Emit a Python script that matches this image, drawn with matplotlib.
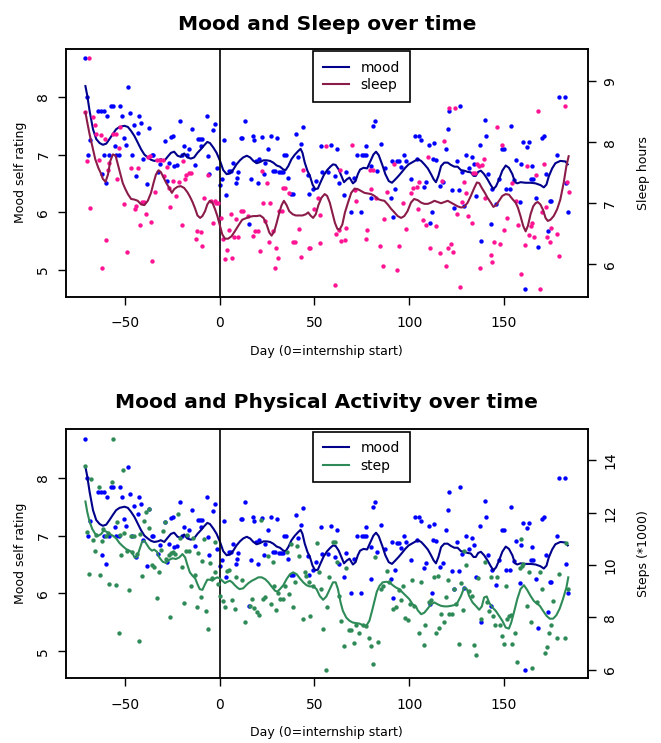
import matplotlib
matplotlib.use("Agg")
import matplotlib.pyplot as plt
from matplotlib.lines import Line2D

plt.rcParams['font.family'] = ['DejaVu Sans']

# ---------------- data ----------------
mood_day = [-71.2, -70.2, -64.2, -62.8, -61.2, -68.6, -69.3, -62.3, -60.2, -61.1, -58.3, -54.5, -53.2,
            -59.5, -57.2, -56.4, -52.4, -55.2, -51.3, -50.4, -49.3, -48.3, -47.3, -46.2, -45.3, -44.3,
            -43.1, -42.4, -41.4, -40.2, -38.4, -37.2, -35.9, -34.9, -32.6, -31.4, -29.0, -28.0, -26.6,
            -25.7, -24.8, -24.0, -22.6, -20.9, -20.0, -18.6, -17.0, -16.2, -14.8, -13.0, -11.6, -10.4,
            -9.9, -9.2, -6.5, -6.0, -5.7, -3.7, -2.7, -1.6, 0.3, 1.0, 2.4, 3.4, 5.2, 6.2, 7.1, 8.5, 9.2,
            9.7, 11.2, 11.9, 13.3,
            15.3, 16.6, 17.4, 18.3, 19.2, 20.6, 20.2, 22.3, 23.2, 24.1, 25.3, 27.0, 28.4, 29.3, 30.2,
            31.3, 32.3, 33.4, 34.2, 35.1, 36.1, 37.4, 38.6, 40.3, 41.2, 42.9, 44.2, 46.5, 47.3, 49.4,
            50.8, 53.3, 53.8, 57.3, 59.0, 60.8, 62.0, 63.1, 65.7, 66.4, 69.2, 70.8, 72.7, 74.4, 75.1,
            76.0, 77.1, 77.4, 79.7, 80.9, 81.8, 80.0, 83.2, 85.3, 87.4, 90.2, 91.1, 91.6, 92.3, 93.3,
            94.7, 95.4, 97.5, 98.1, 100.8, 102.8,
            104.2, 105.2, 106.3, 107.7, 109.1, 110.3, 112.0, 111.2, 112.4, 113.3, 114.3, 116.4, 117.6,
            119.4, 120.3, 121.1, 122.4, 123.4, 125.2, 126.4, 126.9, 128.1, 129.9, 129.0, 131.6, 132.9,
            134.3, 135.4, 137.1, 138.1, 139.9, 140.4, 141.6, 143.0, 143.9, 145.6, 147.4, 149.1, 150.0,
            150.9, 153.1, 153.8, 155.2, 156.1, 158.2, 159.1, 159.8, 161.0, 161.9, 163.1, 164.9, 164.0,
            165.4, 167.8, 167.0, 170.1, 171.0, 171.9, 173.1, 174.0, 175.0, 178.0, 179.0, 182.2, 182.9,
            183.8]
mood_val = [8.67, 8.0, 7.76, 7.76, 7.76, 7.25, 7.0, 6.67, 6.51, 7.0, 7.0, 7.0, 7.0,
            7.67, 7.84, 7.84, 7.84, 7.15, 7.67, 7.29, 7.17, 8.18, 7.72, 7.0, 7.51, 6.63,
            7.37, 7.67, 7.55, 6.92, 6.48, 7.46, 7.0, 7.0, 6.69, 6.83, 7.24, 6.54, 6.86,
            7.3, 7.33, 6.8, 6.82, 7.58, 6.99, 7.15, 6.99, 7.09, 7.44, 6.82, 7.27, 7.27,
            7.15, 7.27, 7.67, 6.98, 6.66, 7.42, 7.54, 6.76, 6.47, 6.57, 7.25, 6.29, 6.72, 6.72, 6.86, 6.51, 6.6,
            6.7, 7.28, 7.28, 7.58,
            5.79, 6.58, 7.33, 7.25, 6.89, 6.92, 6.51, 7.31, 6.66, 6.85, 7.09, 7.32, 6.72, 6.72, 7.28,
            6.7, 6.7, 6.7, 7.0, 7.0, 6.6, 6.31, 6.31, 7.36, 6.95, 7.18, 7.48, 6.64, 6.31, 6.41,
            6.54, 7.15, 6.69, 6.69, 7.16, 6.63, 7.09, 6.51, 6.29, 6.7, 6.01, 6.6, 7.0, 6.01, 7.0,
            7.0, 7.0, 7.15, 6.8, 7.5, 7.58, 6.25, 6.72, 7.18, 6.76, 6.25, 6.89, 5.92, 6.4, 6.88,
            6.88, 6.79, 7.0, 6.89, 6.57, 7.32,
            6.92, 7.33, 7.25, 6.44, 6.52, 7.16, 6.0, 5.81, 6.92, 7.2, 6.9, 6.45, 6.52,
            7.1, 7.44, 7.76, 6.39, 6.07, 6.89, 6.39, 7.84, 6.69, 7.0, 6.1, 6.76, 6.95,
            6.83, 6.28, 7.16, 5.5, 7.6, 7.33, 6.67, 5.79, 6.4, 6.14, 6.57, 7.1, 7.1,
            6.4, 6.4, 7.5, 6.56, 6.9, 6.18, 6.83, 7.21, 4.67, 7.14, 7.21, 6.8, 6.58,
            6.58, 5.4, 6.25, 7.28, 7.32, 6.67, 5.67, 6.2, 6.2, 7.0, 8.0, 8.0, 6.51,
            6.0]

sleep_day = [-68.9, -70.8, -69.8, -68.2, -66.8, -65.9, -65.1, -62.8, -63.8, -61.9, -60.7, -59.8, -58.9,
             -58.1, -56.3, -54.9, -54.0, -53.2, -52.3, -50.2, -48.8, -47.0, -44.9, -44.1, -42.8, -42.0,
             -40.9, -39.7, -38.8, -38.0, -36.7, -36.2, -35.9, -33.9, -32.8, -31.5, -30.1, -29.2, -28.0,
             -26.9, -26.1, -24.8, -23.1, -21.3, -20.1, -19.2, -18.4, -17.5, -16.1, -14.9, -12.6, -12.1,
             -10.0, -9.1, -8.2, -6.1, -4.4, -2.6, -3.3, -1.7, -0.7, 0.7, 1.7, 2.8, 3.8, 4.9, 5.8, 6.6,
             7.5, 8.7, 9.8, 11.5, 12.2,
             14.7, 17.5, 18.9, 20.0, 21.3, 22.2, 22.7, 24.0, 25.2, 26.2, 26.6, 28.0, 29.2, 29.7, 30.9,
             31.5, 32.7, 33.6, 34.5, 36.7, 38.8, 39.7, 41.9, 42.8, 44.0, 47.0, 47.9, 49.8, 51.9, 52.8,
             53.2, 55.9, 60.7, 61.5, 62.9, 63.6, 64.2, 66.1, 66.8, 70.0, 71.2, 72.0, 77.0, 77.6, 79.4,
             80.8, 79.9, 82.5, 84.6, 86.0, 86.9, 88.3, 92.2, 93.5, 94.8, 96.9, 98.3, 100.9, 101.8,
             104.2, 105.4, 104.5, 107.5, 108.9, 110.1, 111.2, 114.3, 116.4, 117.1, 118.2, 119.4, 120.3,
             122.0, 121.1, 124.1, 122.9, 125.2, 126.9, 127.8, 129.0, 130.2, 131.1, 132.9, 133.4, 134.6,
             136.0, 136.9, 137.2, 138.6, 139.5, 139.9, 143.0, 143.9, 144.8, 146.2, 147.9, 149.1, 150.0,
             151.7, 154.0, 156.1, 157.3, 158.7, 161.0, 161.9, 163.1, 164.4, 164.9, 165.7, 167.1, 167.8,
             168.9, 170.1, 171.0, 171.9, 172.7, 174.1, 175.0, 178.0, 179.0, 182.4, 183.2, 184.1]
sleep_val = [9.37, 8.5, 7.69, 6.93, 8.41, 8.28, 8.14, 8.11, 7.7, 5.94, 8.05, 6.4, 7.55,
             7.66, 8.13, 8.13, 7.4, 7.91, 8.25, 6.99, 6.2, 7.58, 6.91, 6.96, 7.57, 6.65,
             7.02, 7.02, 6.82, 7.76, 7.77, 6.7, 6.06, 7.19, 7.7, 7.7, 7.7, 7.45, 7.6,
             7.25, 6.94, 7.36, 7.12, 7.34, 6.64, 7.69, 7.39, 7.46, 7.5, 7.5, 6.41, 6.55,
             6.53, 6.3, 7.09, 7.47, 7.03, 7.03, 6.68, 7.0, 7.0, 6.76, 6.42, 6.08, 6.23, 6.57, 6.82, 6.1,
             6.44, 6.75, 6.44, 6.87, 6.87,
             6.79, 6.46, 6.55, 6.55, 6.22, 7.53, 7.0, 6.71, 7.33, 6.36, 7.01, 6.55, 5.94, 6.27, 6.1,
             6.87, 6.87, 7.25, 7.25, 7.17, 6.36, 6.36, 6.58, 6.12, 7.54, 6.27, 6.27, 6.91, 7.09, 6.35,
             6.8, 7.93, 5.66, 6.49, 6.57, 7.54, 6.39, 6.4, 6.6, 7.95, 7.21, 7.04, 6.41, 6.56, 7.55,
             7.55, 7.23, 7.09, 6.3, 5.97, 6.75, 7.18, 7.64, 5.91, 6.3, 7.0, 6.58, 7.17, 7.25,
             7.27, 7.34, 6.9, 6.72, 6.64, 7.76, 6.26, 6.62, 6.19, 7.36, 8.02, 5.97, 6.26,
             6.33, 8.56, 8.56, 6.2, 6.82, 5.63, 7.02, 7.35, 7.17, 6.79, 6.68, 7.5, 7.5,
             7.64, 7.61, 5.94, 7.63, 7.73, 7.09, 6.16, 6.04, 6.37, 8.25, 6.34, 7.95, 6.56,
             6.76, 7.33, 7.04, 6.65, 5.84, 6.31, 7.61, 6.48, 6.63, 6.67, 6.44, 7.47, 8.51,
             5.6, 6.86, 7.64, 6.94, 6.45, 6.36, 6.6, 6.49, 6.14, 8.6, 7.34, 7.19]

step_day = [-70.8, -56.0, -68.0, -63.8, -70.0, -66.8, -68.9, -65.9, -65.1, -63.1, -62.2, -61.3, -60.2,
            -58.9, -58.1, -56.9, -54.9, -54.0, -53.2, -52.8, -52.1, -51.2, -50.2, -49.1, -48.0, -46.7,
            -45.0, -46.3, -43.5, -42.7, -42.0, -40.9, -39.7, -38.8, -37.4, -37.1, -35.9, -34.5, -33.2,
            -32.2, -30.9, -30.1, -29.0, -28.3, -26.9, -25.5, -24.8, -23.6, -26.1, -22.0, -21.0, -20.1,
            -19.0, -17.8, -17.0, -16.1, -14.9, -14.0, -12.9, -12.1, -11.2, -10.0, -9.1, -8.2, -7.0,
            -6.1, -5.2, -3.8, -2.6, -2.4, -1.0, 0.3, 1.7, 2.8, 3.8, 4.9, 6.6, 7.9, 8.7, 11.9, 13.6,
            16.1, 17.3, 18.2, 19.9, 20.8, 21.7, 22.7, 24.0, 25.7, 26.9, 28.3, 28.8, 29.7, 30.9, 31.8,
            33.2, 34.4, 35.3, 36.7, 37.9, 38.8, 39.7, 40.6, 41.6, 44.1, 44.9, 45.8, 47.2, 47.9, 49.3,
            51.4, 52.5, 53.3, 54.6, 55.9, 56.8, 57.7, 59.8, 60.8, 62.1, 62.9, 64.2, 65.4, 66.8, 68.2,
            69.4, 71.0, 72.0, 73.4, 75.8, 77.3, 78.7, 79.6, 80.8, 81.7, 83.4, 85.2, 86.4, 88.3, 89.5,
            91.3, 93.0, 94.4, 95.7, 96.9, 97.7, 99.1, 100.4, 101.4, 102.5,
            104.9, 106.0, 107.7, 108.4, 110.6, 111.5, 113.3, 114.1, 115.0, 115.9, 116.8, 118.2, 119.4,
            120.3, 121.1, 122.4, 123.4, 124.6, 126.4, 127.3, 128.5, 129.0, 130.2, 131.6, 132.9, 134.3,
            135.4, 136.4, 137.8, 140.2, 140.9, 142.1, 143.0, 144.2, 145.1, 146.5, 147.9, 149.1, 150.0,
            150.9, 151.7, 152.6, 153.5, 154.0, 155.6, 156.6, 158.4, 159.3, 158.7, 160.0, 161.9, 163.1,
            164.0, 165.0, 167.5, 168.9, 170.1, 171.5, 172.7, 173.6, 174.8, 175.9, 178.0, 178.9, 182.0,
            182.9, 183.8]
step_val = [13.78, 14.83, 13.3, 12.98, 11.28, 10.97, 9.65, 10.55, 11.16, 9.62, 10.93, 11.38, 11.1,
            11.23, 9.27, 13.19, 9.23, 11.66, 7.39, 11.15, 10.4, 13.64, 11.23, 10.52, 9.05, 11.1,
            11.12, 10.51, 10.42, 7.1, 11.19, 9.57, 11.7, 12.04, 12.15, 11.41, 10.0, 9.91, 8.73,
            9.72, 10.59, 11.32, 11.66, 10.23, 10.4, 10.45, 10.5, 10.42, 8.03, 11.96, 11.02, 9.91,
            8.54, 10.55, 11.16, 10.52, 9.2, 11.02, 9.62, 8.38, 10.46, 8.76, 10.17, 11.0, 8.25,
            7.57, 10.06, 9.49, 9.74, 10.87, 9.28, 8.8, 8.63, 8.38, 9.78, 9.82, 8.66, 8.31, 9.53, 9.44, 7.84,
            8.44, 8.7, 8.34, 8.19, 8.08, 11.74, 8.7, 8.76, 10.33, 8.5, 10.1, 9.2, 8.27, 8.95, 8.72,
            8.72, 9.2, 10.49, 8.89, 10.8, 8.38, 9.34, 10.72, 10.36, 7.93, 9.74, 9.59, 9.34, 8.06, 9.2,
            10.84, 9.72, 9.1, 7.55, 5.99, 8.38, 9.53, 10.87, 10.87, 10.1, 8.82, 7.87, 6.9, 9.87, 7.52,
            7.52, 7.03, 7.7, 7.42, 7.7, 7.67, 7.22, 6.9, 6.2, 10.32, 7.06, 9.1, 9.2, 9.78, 9.34,
            8.31, 8.38, 9.05, 8.67, 9.2, 7.99, 7.9, 8.5, 9.44, 8.44,
            7.42, 9.34, 6.93, 7.7, 8.6, 8.66, 9.53, 7.42, 9.59, 7.61, 8.12, 7.83, 8.76,
            9.44, 8.13, 8.13, 9.08, 8.5, 6.97, 9.31, 8.29, 10.55, 10.0, 9.02, 8.82, 6.94,
            6.55, 9.49, 7.93, 10.1, 8.6, 8.25, 9.53, 8.06, 7.7, 9.53, 7.7, 7.27, 7.0,
            9.2, 7.95, 8.06, 8.08, 7.0, 7.42, 6.29, 9.87, 9.95, 11.0, 10.04, 8.44, 9.72,
            7.83, 6.08, 8.57, 9.72, 9.08, 6.65, 6.88, 7.39, 7.7, 8.63, 7.22, 9.66, 7.22,
            10.84, 9.1]

# smoothed trend lines as drawn in the picture
mood_fit_day = [-70.8, -69.8, -68.6, -66.8, -65.1, -63.3, -61.6, -59.8, -58.1, -56.3, -54.6, -52.8, -50.2,
                -48.4, -46.7, -44.9, -43.2, -41.4, -39.7, -37.9, -36.2, -34.5, -32.7, -31.0, -29.2, -27.5,
                -25.7, -24.0, -22.2, -20.5, -18.7, -17.0, -15.2, -13.5, -11.7, -10.0, -8.2, -6.5, -5.1,
                -3.3, -1.6, 0.2, 1.9, 3.7, 5.4, 7.2, 8.9, 10.7, 12.4, 14.3, 16.1, 17.8, 19.6, 21.3, 23.1,
                24.8, 26.6, 28.3, 30.1, 31.8, 33.6, 34.8, 36.2, 37.9, 39.7, 41.4, 42.7, 43.7, 44.9, 46.3,
                47.6, 49.0, 50.4, 51.8, 53.1, 54.9, 56.7, 58.4, 59.8, 61.2, 62.8, 64.2, 65.6, 67.1, 68.5,
                70.3, 71.7, 72.9, 74.1, 75.9, 77.8, 79.6, 81.1, 82.5, 83.9, 85.7, 87.4, 89.2, 90.9, 92.7,
                94.4, 96.2, 97.9, 99.7, 101.8, 104.5, 106.3, 108.0, 109.8, 111.5, 112.9, 114.1, 115.4,
                116.8, 118.5, 120.3, 122.0, 123.8, 125.5, 127.3, 129.0, 130.8, 132.5, 133.9, 135.1, 136.4,
                137.8, 139.5, 141.3, 143.0, 144.4, 145.8, 147.4, 149.1, 150.9, 152.6, 154.4, 155.8, 157.0,
                158.7, 161.4, 164.0, 166.6, 169.2, 171.0, 172.4, 173.6, 175.4, 177.1, 179.7, 182.4, 183.6]
mood_fit = [8.19, 8.02, 7.76, 7.44, 7.27, 7.2, 7.17, 7.19, 7.27, 7.36, 7.44, 7.48, 7.5,
            7.48, 7.41, 7.32, 7.21, 7.09, 7.0, 6.95, 6.91, 6.89, 6.9, 6.92, 6.89, 6.96,
            7.03, 7.05, 6.98, 6.96, 7.02, 6.95, 6.93, 6.95, 7.03, 7.09, 7.16, 7.22, 7.2,
            7.12, 7.03, 6.89, 6.73, 6.66, 6.67, 6.74, 6.83, 6.9, 6.95, 6.98, 6.95, 6.89, 6.85, 6.87, 6.9,
            6.9, 6.89, 6.86, 6.81, 6.79, 6.74, 6.73, 6.8, 6.92, 7.0, 7.06, 7.1, 7.03, 6.86, 6.72,
            6.63, 6.48, 6.4, 6.41, 6.51, 6.64, 6.73, 6.79, 6.83, 6.82, 6.74, 6.63, 6.52, 6.57, 6.6,
            6.5, 6.54, 6.66, 6.74, 6.77, 6.76, 6.89, 7.0, 7.05, 6.99, 6.83, 6.66, 6.54, 6.51, 6.57,
            6.63, 6.7, 6.77, 6.83, 6.87, 6.92, 6.89, 6.83, 6.76, 6.66, 6.57, 6.52, 6.63,
            6.8, 6.86, 6.86, 6.82, 6.79, 6.79, 6.73, 6.72, 6.7, 6.69, 6.63, 6.63, 6.7,
            6.72, 6.66, 6.57, 6.47, 6.4, 6.45, 6.57, 6.72, 6.81, 6.77, 6.66, 6.52, 6.5,
            6.52, 6.51, 6.51, 6.5, 6.47, 6.43, 6.48, 6.62, 6.76, 6.85, 6.89, 6.88, 6.83]

sleep_fit_day = [-70.8, -69.8, -68.6, -67.2, -65.6, -64.0, -62.8, -61.6, -60.2, -58.9, -57.7, -56.3, -54.9,
                 -53.7, -52.3, -51.1, -49.7, -48.4, -46.7, -44.9, -43.2, -41.4, -39.7, -37.9, -36.2, -34.8,
                 -33.6, -32.2, -31.0, -29.6, -28.3, -26.6, -25.2, -24.0, -22.2, -20.5, -18.7, -17.0, -15.7,
                 -14.3, -12.9, -11.7, -10.3, -9.1, -7.7, -6.5, -5.2, -3.8, -2.4, -1.2, 0.0, 1.4, 2.8, 4.5,
                 6.3, 8.0, 9.8, 11.9, 14.3, 16.1, 17.8, 19.6, 21.3, 23.1, 24.8, 26.2, 27.4, 28.8, 30.1,
                 31.5, 32.7, 33.9, 35.3, 36.7, 38.5, 40.2, 41.9, 43.7, 45.5, 46.7, 47.9, 49.3, 50.7, 52.1,
                 53.7, 55.4, 56.7, 58.1, 59.4, 60.8, 62.1, 63.3, 64.7, 66.1, 67.7, 69.4, 71.2, 72.9, 74.7,
                 76.4, 78.2, 79.9, 81.7, 83.4, 85.2, 86.9, 88.7, 90.4, 92.2, 93.9, 95.7, 97.4, 99.1, 100.9,
                 102.6, 104.5, 106.3, 108.0, 109.8, 111.5, 113.3, 115.0, 116.8, 118.5, 120.3, 122.0, 123.8,
                 125.5, 127.3, 129.0, 130.8, 132.5, 134.3, 135.7, 136.9, 138.3, 139.9, 141.3, 143.0, 144.4,
                 145.8, 147.4, 149.1, 150.9, 152.6, 154.4, 156.1, 157.3, 158.7, 160.1, 161.4, 162.6, 164.0,
                 165.4, 166.6, 167.8, 169.2, 170.6, 171.9, 173.1, 174.5, 176.2, 178.0, 179.7, 181.5, 182.9,
                 184.1]
sleep_fit = [8.49, 8.32, 8.13, 7.94, 7.72, 7.58, 7.5, 7.4, 7.35, 7.47, 7.69, 7.8, 7.78,
             7.64, 7.47, 7.33, 7.23, 7.15, 7.07, 7.06, 7.04, 6.98, 6.97, 7.04, 7.17, 7.34,
             7.47, 7.54, 7.51, 7.42, 7.34, 7.25, 7.17, 7.23, 7.27, 7.28, 7.25, 7.18, 7.11,
             7.02, 6.91, 6.8, 6.76, 6.79, 6.87, 6.98, 7.04, 7.01, 6.9, 6.79, 6.65, 6.49, 6.42, 6.42,
             6.46, 6.54, 6.63, 6.73, 6.76, 6.78, 6.79, 6.79, 6.8, 6.76, 6.65, 6.52, 6.47, 6.54, 6.68,
             6.85, 6.97, 7.04, 6.97, 6.87, 6.82, 6.8, 6.8, 6.8, 6.82, 6.85, 6.8, 6.76, 6.82, 6.97,
             7.09, 7.15, 7.12, 7.01, 6.85, 6.68, 6.58, 6.57, 6.65, 6.85, 7.01, 7.17, 7.24, 7.23, 7.2,
             7.17, 7.16, 7.15, 7.12, 7.07, 7.05, 7.04, 6.98, 6.91, 6.85, 6.79, 6.76, 6.79, 6.87, 7.01,
             7.07, 7.05, 7.01, 6.99, 6.99, 7.01, 7.04, 7.02, 7.0, 7.02, 7.04, 7.01, 6.98,
             6.95, 6.93, 6.94, 7.01, 7.12, 7.25, 7.34, 7.33, 7.25, 7.17, 7.09, 7.01, 6.94,
             6.97, 7.04, 7.12, 7.15, 7.14, 7.07, 7.01, 6.93, 6.79, 6.63, 6.54, 6.63, 6.82,
             6.95, 7.0, 7.02, 6.98, 6.89, 6.76, 6.71, 6.73, 6.79, 6.9, 7.06, 7.34, 7.61,
             7.77]

step_fit_day = [-70.8, -69.8, -68.6, -67.2, -65.6, -64.0, -62.4, -61.2, -59.8, -58.1, -56.3, -54.6, -52.8,
                -51.1, -49.3, -47.6, -46.2, -44.9, -43.7, -42.3, -40.9, -39.7, -38.3, -37.1, -35.7, -34.5,
                -33.1, -31.8, -30.1, -28.3, -26.6, -24.8, -23.1, -21.3, -19.6, -18.2, -17.0, -15.7, -14.3,
                -12.9, -11.7, -10.5, -9.1, -7.7, -6.5, -5.1, -3.8, -2.4, -1.2, 0.0, 1.4, 2.8, 4.0, 5.4,
                6.6, 8.0, 9.3, 10.5, 12.4, 14.0, 15.2, 17.0, 18.7, 20.4, 22.2, 24.0, 25.7, 27.4, 29.2,
                30.4, 31.8, 33.6, 35.3, 37.1, 38.8, 40.6, 42.3, 44.1, 45.8, 47.6, 49.3, 51.1, 52.8, 54.6,
                56.3, 58.1, 59.8, 61.2, 62.4, 63.8, 65.0, 66.8, 68.5, 70.3, 72.0, 73.8, 75.5, 77.3, 79.0,
                80.4, 81.7, 82.9, 84.3, 86.0, 87.8, 89.5, 91.3, 93.0, 94.8, 96.5, 98.3, 100.0, 101.8,
                103.6, 104.5, 106.3, 108.0, 109.8, 111.5, 113.3, 115.0, 116.8, 118.5, 120.3, 122.0, 123.8,
                125.5, 127.3, 129.0, 130.4, 131.6, 133.4, 135.1, 136.9, 138.3, 139.5, 140.9, 142.1, 143.9,
                145.6, 147.4, 149.1, 150.9, 152.6, 153.8, 155.2, 157.0, 158.7, 160.5, 162.2, 164.0, 165.7,
                167.1, 168.9, 170.6, 172.4, 174.1, 175.9, 177.6, 179.4, 181.1, 182.9, 183.9]
step_fit = [12.43, 12.02, 11.66, 11.38, 11.19, 11.12, 11.19, 11.32, 11.28, 11.19, 11.12, 11.02, 10.84,
            10.72, 10.61, 10.55, 10.49, 10.29, 10.29, 10.59, 10.89, 10.93, 10.77, 10.64, 10.55, 10.59,
            10.51, 10.29, 10.13, 10.08, 10.2, 10.26, 10.23, 10.29, 10.42, 10.29, 10.0, 9.72, 9.59,
            9.49, 9.27, 9.08, 9.05, 9.27, 9.44, 9.44, 9.4, 9.49, 9.53, 9.49, 9.4, 9.31, 9.36, 9.4,
            9.34, 9.23, 9.14, 9.08, 9.11, 9.23, 9.31, 9.4, 9.46, 9.53, 9.53, 9.46, 9.34, 9.18, 9.02,
            8.98, 9.08, 9.23, 9.46, 9.65, 9.72, 9.65, 9.49, 9.34, 9.23, 9.18, 9.2, 9.08, 8.82, 8.67,
            8.8, 9.08, 9.34, 9.34, 9.08, 8.57, 8.25, 7.99, 7.87, 7.8, 7.78, 7.76, 7.7, 7.67, 7.87,
            8.25, 8.63, 8.98, 9.2, 9.34, 9.36, 9.34, 9.23, 9.14, 9.08, 8.95, 8.82, 8.7, 8.5,
            8.41, 8.27, 8.12, 8.18, 8.34, 8.5, 8.57, 8.5, 8.44, 8.42, 8.42, 8.44, 8.47,
            8.57, 8.82, 9.14, 9.08, 8.82, 8.57, 8.44, 8.29, 8.42, 8.76, 8.8, 8.57, 8.38,
            8.25, 8.06, 7.87, 7.61, 7.57, 7.8, 8.18, 8.7, 9.08, 9.23, 9.05, 8.82, 8.63,
            8.54, 8.44, 8.25, 8.06, 7.95, 7.95, 8.08, 8.34, 8.7, 9.14, 9.53]

x_ticks = [-50, 0, 50, 100, 150]
mood_ticks = [5, 6, 7, 8]
sleep_ticks = [6, 7, 8, 9]
step_ticks = [6, 8, 10, 12, 14]

titles = ["Mood and Sleep over time", "Mood and Physical Activity over time"]
x_label = "Day (0=internship start)"
mood_label = "Mood self rating"
sleep_label = "Sleep hours"
step_label = "Steps (*1000)"

# ---------------- style ----------------
W, H = 661, 743
fig = plt.figure(figsize=(W / 100, H / 100), dpi=100)

C_MOOD_PT = "#0000FF"
C_MOOD_LN = "#00008B"
C_SLEEP_PT = "#FF1493"
C_SLEEP_LN = "#8B1C4A"
C_STEP_PT = "#2E8B57"
C_STEP_LN = "#2E8B57"

XLIM = (-81.2, 194.3)
MOOD_LIM = (4.53, 8.84)
SLEEP_LIM = (5.47, 9.53)
STEP_LIM = (5.67, 15.19)
PT_SIZE = 10

def frac_box(x0, y0, x1, y1):
    return [x0 / W, 1 - y1 / H, (x1 - x0) / W, (y1 - y0) / H]

def style(ax):
    for s in ax.spines.values():
        s.set_linewidth(1.1)
    ax.tick_params(axis='both', direction='out', length=6, width=1.0, labelsize=10)
    ax.tick_params(axis='x', pad=8)
    ax.tick_params(axis='y', labelrotation=90, pad=5)
    for lab in ax.get_yticklabels():
        lab.set_verticalalignment('center')

def panel(box, second_day, second_val, second_fit_day, second_fit, second_lim, second_ticks,
          c_pt, c_ln, name, title, right_label, ybase):
    ax = fig.add_axes(frac_box(*box))
    ax.scatter(mood_day, mood_val, s=PT_SIZE, color=C_MOOD_PT, linewidths=0, zorder=2)
    ax.plot(mood_fit_day, mood_fit, color=C_MOOD_LN, lw=1.5, zorder=3)
    ax.axvline(0, color='black', lw=1.2, zorder=4)
    ax.set_xlim(*XLIM)
    ax.set_ylim(*MOOD_LIM)
    ax.set_xticks(x_ticks)
    ax.set_yticks(mood_ticks)
    style(ax)
    ax2 = ax.twinx()
    ax2.scatter(second_day, second_val, s=PT_SIZE, color=c_pt, linewidths=0, zorder=2)
    ax2.plot(second_fit_day, second_fit, color=c_ln, lw=1.5, zorder=3)
    ax2.set_ylim(*second_lim)
    ax2.set_yticks(second_ticks)
    ax2.set_xlim(*XLIM)
    style(ax2)
    handles = [Line2D([], [], color=C_MOOD_LN, lw=1.5), Line2D([], [], color=c_ln, lw=1.5)]
    leg = ax2.legend(handles, ["mood", name], loc='upper center', bbox_to_anchor=(0.566, 0.991),
                     frameon=True, fancybox=False, framealpha=1, edgecolor='black', fontsize=10,
                     handlelength=1.9, borderpad=0.7, labelspacing=0.25, handletextpad=0.85,
                     borderaxespad=0)
    leg.get_frame().set_linewidth(1.2)
    x0, y0, x1, y1 = box
    xc = (x0 + x1) / 2
    fig.text(xc / W, 1 - ybase / H, title, ha='center', va='baseline', fontsize=14.5,
             fontweight='bold')
    fig.text(xc / W, 1 - (y1 + 58) / H, x_label, ha='center', va='baseline', fontsize=9)
    yc = 1 - (y0 + y1) / 2 / H
    fig.text(21 / W, yc, mood_label, rotation=90, ha='center', va='center', fontsize=9)
    fig.text(644 / W, yc, right_label, rotation=90, ha='center', va='center', fontsize=9)
    return ax, ax2

panel((65.7, 48.7, 588, 296.7), sleep_day, sleep_val, sleep_fit_day, sleep_fit, SLEEP_LIM,
      sleep_ticks, C_SLEEP_PT, C_SLEEP_LN, "sleep", titles[0], sleep_label, 29.5)
panel((65.7, 429.3, 588, 678.3), step_day, step_val, step_fit_day, step_fit, STEP_LIM,
      step_ticks, C_STEP_PT, C_STEP_LN, "step", titles[1], step_label, 408)

fig.savefig("out.png", dpi=100)
